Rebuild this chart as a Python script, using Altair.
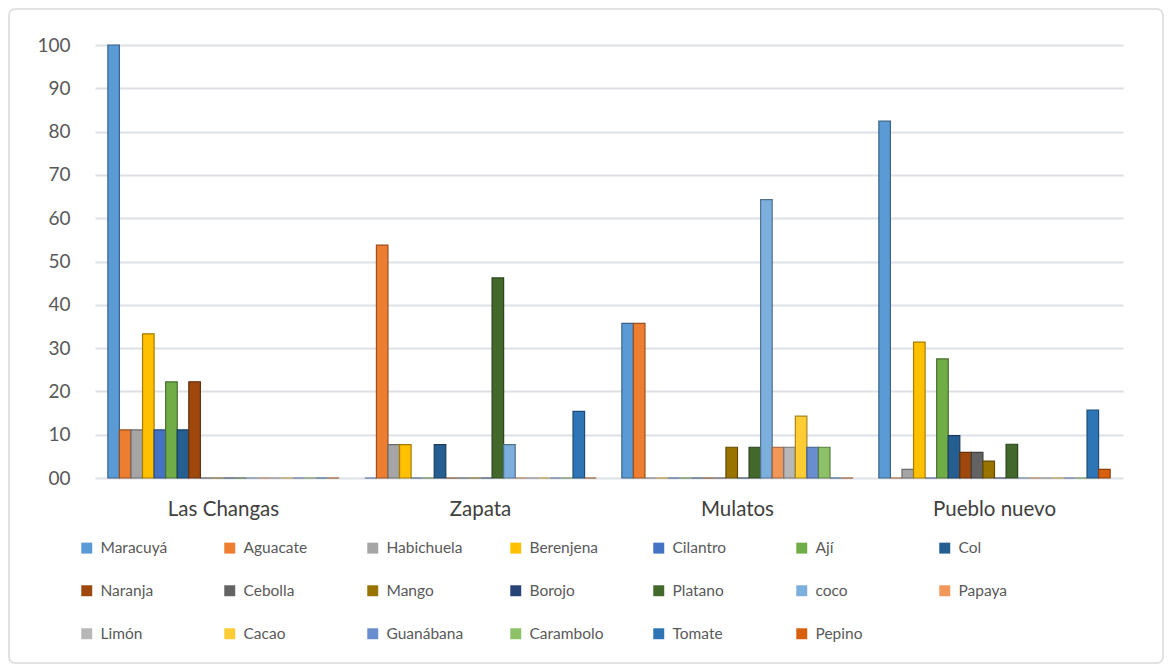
import altair as alt
import pandas as pd

categories = ["Las Changas", "Zapata", "Mulatos", "Pueblo nuevo"]
series = ["Maracuyá", "Aguacate", "Habichuela", "Berenjena", "Cilantro", "Ají", "Col",
          "Naranja", "Cebolla", "Mango", "Borojo", "Platano", "coco", "Papaya",
          "Limón", "Cacao", "Guanábana", "Carambolo", "Tomate", "Pepino"]
las_changas = [100, 11.1, 11.1, 33.3, 11.1, 22.2, 11.1, 22.2, 0, 0, 0, 0, 0, 0, 0, 0, 0, 0, 0, 0]
zapata = [0, 53.8, 7.7, 7.7, 0, 0, 7.7, 0, 0, 0, 0, 46.2, 7.7, 0, 0, 0, 0, 0, 15.4, 0]
mulatos = [35.7, 35.7, 0, 0, 0, 0, 0, 0, 0, 7.1, 0, 7.1, 64.3, 7.1, 7.1, 14.3, 7.1, 7.1, 0, 0]
pueblo_nuevo = [82.4, 0, 2.0, 31.4, 0, 27.5, 9.8, 5.9, 5.9, 3.9, 0, 7.8, 0, 0, 0, 0, 0, 0, 15.7, 2.0]
colors = ["#5B9BD5", "#ED7D31", "#A5A5A5", "#FFC000", "#4472C4", "#70AD47", "#255E91",
          "#9E480E", "#636363", "#997300", "#264478", "#43682B", "#7CAFDD", "#F1975A",
          "#B7B7B7", "#FFCD33", "#698ED0", "#8CC168", "#2E75B6", "#D9600F"]


def darken(h, f=0.65):
    r, g, b = int(h[1:3], 16), int(h[3:5], 16), int(h[5:7], 16)
    return "#%02x%02x%02x" % (int(r * f), int(g * f), int(b * f))


dark_colors = [darken(c) for c in colors]

rows = []
for cat, vals in zip(categories, [las_changas, zapata, mulatos, pueblo_nuevo]):
    for s, v in zip(series, vals):
        rows.append({"cat": cat, "serie": s, "valor": v})
df = pd.DataFrame(rows)

FONT = "Lato"

x_enc = alt.X("cat:N", sort=categories, title=None,
              scale=alt.Scale(paddingInner=0.1, paddingOuter=0.05),
              axis=alt.Axis(labelAngle=0, labelFontSize=20.5, labelColor="#404040",
                            labelPadding=21, ticks=False, domain=False, labelFont=FONT))
xo_enc = alt.XOffset("serie:N", sort=series, scale=alt.Scale(paddingInner=0, paddingOuter=0))
y_enc = alt.Y("valor:Q", title=None,
              scale=alt.Scale(domain=[0, 100], nice=False),
              axis=alt.Axis(values=list(range(0, 101, 10)), labelFontSize=19,
                            labelColor="#595959", labelPadding=25, ticks=False,
                            domain=False, gridColor="#dde0e5", gridWidth=2,
                            labelFont=FONT,
                            labelExpr="datum.value == 0 ? '00' : datum.label"))

bars = alt.Chart(df).mark_bar(strokeWidth=1.2).encode(
    x=x_enc, xOffset=xo_enc, y=y_enc,
    fill=alt.Fill("serie:N", sort=series,
                  scale=alt.Scale(domain=series, range=colors),
                  legend=alt.Legend(title=None, orient="none", legendX=-16, legendY=495,
                                    columns=7, direction="horizontal",
                                    symbolType="square", symbolSize=120,
                                    symbolStrokeWidth=0, labelFontSize=15.5,
                                    labelColor="#595959", labelFont=FONT,
                                    gridAlign="all", columnPadding=44, rowPadding=26,
                                    labelOffset=6)),
    stroke=alt.Stroke("serie:N", sort=series,
                      scale=alt.Scale(domain=series, range=dark_colors), legend=None),
)

border = alt.Chart(alt.Data(values=[{}])).mark_rect(
    fill="transparent", stroke="#d9d9d9", strokeWidth=1.5, cornerRadius=6
).encode(x=alt.value(-86), x2=alt.value(1068), y=alt.value(-36), y2=alt.value(618))

chart = alt.layer(bars, border).properties(
    width=1028, height=433,
    autosize=alt.AutoSizeParams(type="none"),
    padding={"left": 87, "top": 37, "right": 41, "bottom": 186},
).configure_view(stroke=None)

chart.save("out.html", embed_options={"renderer": "svg", "actions": False})
